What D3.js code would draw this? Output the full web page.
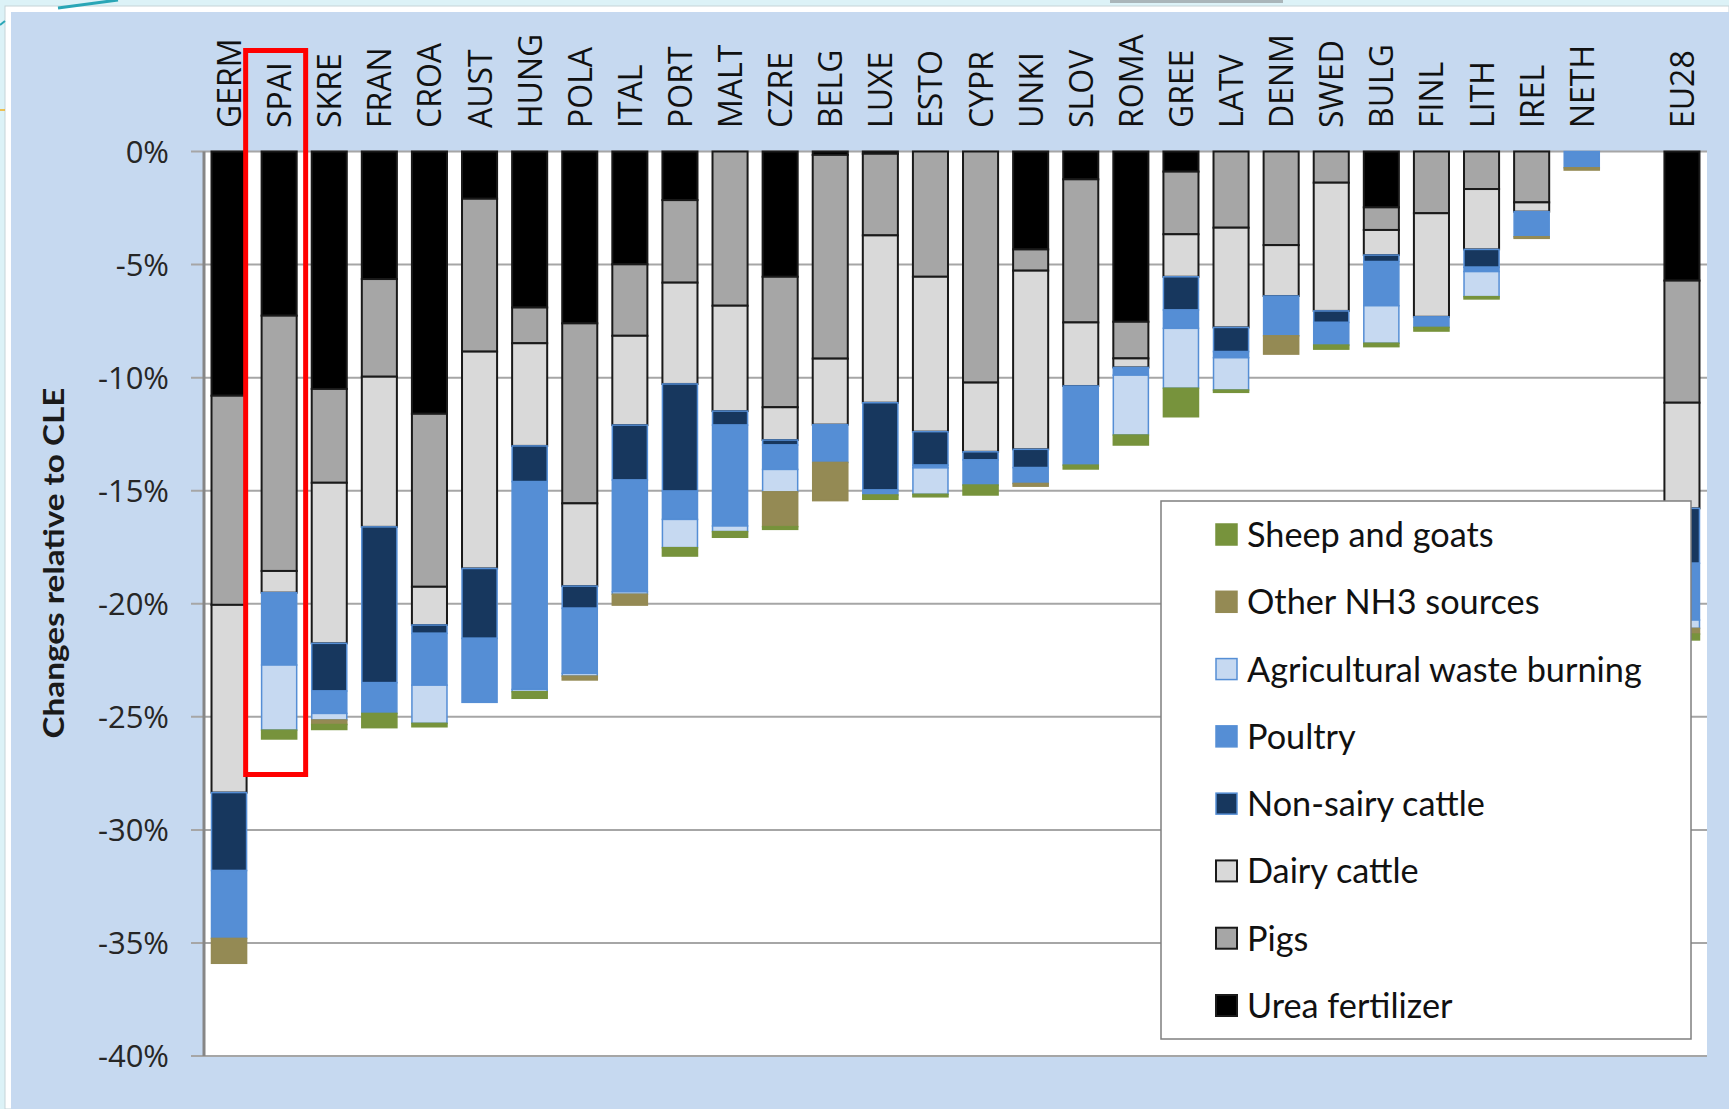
<!DOCTYPE html>
<html>
<head>
<meta charset="utf-8">
<script src="https://cdn.jsdelivr.net/npm/d3@7"></script>
<style>
  html, body { margin: 0; padding: 0; background: #dcf2f7; }
  svg { display: block; }
</style>
</head>
<body>
<svg id="chart" width="1729" height="1109"></svg>
<script>
// ---------------- DATA ----------------
const categories = ["GERM","SPAI","SKRE","FRAN","CROA","AUST","HUNG","POLA","ITAL","PORT","MALT","CZRE","BELG","LUXE","ESTO","CYPR","UNKI","SLOV","ROMA","GREE","LATV","DENM","SWED","BULG","FINL","LITH","IREL","NETH","EU28"];
const seriesNames = ["Urea fertilizer","Pigs","Dairy cattle","Non-sairy cattle","Poultry","Agricultural waste burning","Other NH3 sources","Sheep and goats"];
// reductions in % (drawn as negative changes)
const urea     = [10.8, 7.26, 10.5, 5.64, 11.6, 2.09, 6.9, 7.6, 4.99, 2.15, 0, 5.54, 0.15, 0.1, 0, 0, 4.33, 1.23, 7.53, 0.89, 0, 0, 0, 2.47, 0, 0, 0, 0, 5.71];
const pigs     = [9.25, 11.29, 4.15, 4.32, 7.65, 6.76, 1.58, 7.96, 3.16, 3.65, 6.82, 5.77, 9.01, 3.61, 5.54, 10.22, 0.94, 6.33, 1.62, 2.77, 3.37, 4.14, 1.38, 1.0, 2.73, 1.66, 2.25, 0, 5.4];
const dairy    = [8.3, 0.96, 7.1, 6.64, 1.69, 9.59, 4.54, 3.66, 3.95, 4.48, 4.66, 1.45, 2.92, 7.4, 6.85, 3.06, 7.9, 2.81, 0.4, 1.88, 4.41, 2.25, 5.67, 1.11, 4.58, 2.67, 0.41, 0, 4.67];
const nonDairy = [3.45, 0, 2.11, 6.89, 0.37, 3.09, 1.58, 0.98, 2.43, 4.74, 0.62, 0.22, 0, 3.86, 1.48, 0.36, 0.81, 0, 0, 1.47, 1.07, 0, 0.51, 0.29, 0, 0.79, 0, 0, 2.43];
const poultry  = [3.0, 3.2, 0.99, 1.36, 2.29, 2.83, 9.19, 2.88, 4.94, 1.25, 4.46, 1.08, 1.67, 0.22, 0.12, 1.11, 0.7, 3.5, 0.34, 0.81, 0.27, 1.76, 1.0, 1.95, 0.47, 0.19, 1.11, 0.72, 2.51];
const agWaste  = [0, 2.88, 0.29, 0, 1.69, 0, 0.1, 0.12, 0.11, 1.25, 0.25, 0.99, 0, 0, 1.17, 0, 0, 0, 2.65, 2.65, 1.43, 0, 0, 1.66, 0, 1.11, 0, 0, 0.37];
const otherNH3 = [1.1, 0, 0.2, 0, 0, 0, 0, 0.17, 0.48, 0, 0, 1.54, 1.69, 0, 0, 0, 0.12, 0, 0, 0, 0, 0.81, 0, 0, 0, 0, 0.07, 0.1, 0.25];
const sheep    = [0, 0.39, 0.22, 0.63, 0.15, 0, 0.29, 0, 0, 0.37, 0.25, 0.12, 0, 0.19, 0.11, 0.44, 0, 0.17, 0.44, 1.26, 0.1, 0, 0.18, 0.15, 0.16, 0.1, 0, 0, 0.26];
const yTicks = [0, -0.05, -0.10, -0.15, -0.20, -0.25, -0.30, -0.35, -0.40];
const highlighted = "SPAI";

const seriesValues = [urea, pigs, dairy, nonDairy, poultry, agWaste, otherNH3, sheep];
const fills   = ["#000000","#a6a6a6","#d9d9d9","#17375e","#558ed5","#c6d9f1","#948a54","#77933c"];
const strokes = ["#1a1a1a","#1a1a1a","#1a1a1a","#558ed5","#558ed5","#558ed5","#948a54","#77933c"];

// table for the stack
const SPACER = "__gap__";
const domain = categories.slice(0, -1).concat([SPACER, categories[categories.length - 1]]);
const rows = categories.map((c, i) => {
  const r = { cat: c };
  seriesNames.forEach((s, k) => r[s] = -seriesValues[k][i] / 100);
  return r;
});

// ---------------- LAYOUT ----------------
const svg = d3.select("#chart");
const W = 1729, H = 1109;
const plot = { left: 204, right: 1707, top: 151.5, bottom: 1056 };

// background (slide + chart area)
svg.append("rect").attr("x", 0).attr("y", 0).attr("width", W).attr("height", H).attr("fill", "#dcf2f7");
svg.append("rect").attr("x", 5).attr("y", 6).attr("width", W - 5).attr("height", H - 6)
  .attr("fill", "#ffffff").attr("stroke", "#c5d3d8").attr("stroke-width", 1);
svg.append("rect").attr("x", 11).attr("y", 12).attr("width", W - 11).attr("height", H - 12).attr("fill", "#c6d9f0");
svg.append("line").attr("x1", 58).attr("y1", 8).attr("x2", 118).attr("y2", 0).attr("stroke", "#2aa6b6").attr("stroke-width", 3);
svg.append("line").attr("x1", 0).attr("y1", 25).attr("x2", 5).attr("y2", 21).attr("stroke", "#2aa6b6").attr("stroke-width", 2);
svg.append("line").attr("x1", 0).attr("y1", 110).attr("x2", 5).attr("y2", 110).attr("stroke", "#f0b020").attr("stroke-width", 1.5);
svg.append("rect").attr("x", 1110).attr("y", 0).attr("width", 173).attr("height", 3).attr("fill", "#aab6ba");

// plot area
svg.append("rect").attr("x", plot.left).attr("y", plot.top)
  .attr("width", plot.right - plot.left).attr("height", plot.bottom - plot.top).attr("fill", "#ffffff");

const x = d3.scaleBand().domain(domain).range([plot.left, plot.right]).paddingInner(0.3).paddingOuter(0.15);
const y = d3.scaleLinear().domain([0, -0.40]).range([plot.top, plot.bottom]);

// gridlines
svg.append("g").selectAll("line").data(yTicks).join("line")
  .attr("x1", plot.left - 13).attr("x2", plot.right)
  .attr("y1", d => y(d)).attr("y2", d => y(d))
  .attr("stroke", "#a6a6a6").attr("stroke-width", 2);

// y axis
const yAxis = d3.axisLeft(y).tickValues(yTicks).tickSize(0).tickPadding(35)
  .tickFormat(d => Math.round(d * 100) + "%");
const gy = svg.append("g").attr("transform", `translate(${plot.left},0)`).call(yAxis);
gy.select(".domain").remove();
gy.selectAll("text").attr("font-family", "'Open Sans', sans-serif").attr("font-size", 31)
  .attr("fill", "#262626").attr("dy", "0.35em");
svg.append("line").attr("x1", plot.left).attr("x2", plot.left).attr("y1", plot.top).attr("y2", plot.bottom)
  .attr("stroke", "#868686").attr("stroke-width", 3);

// y title
svg.append("text")
  .attr("transform", `translate(${64},${563}) rotate(-90)`)
  .attr("text-anchor", "middle")
  .attr("font-family", "Lato, sans-serif").attr("font-weight", "bold").attr("font-size", 29)
  .attr("fill", "#1a1a1a")
  .attr("textLength", 351).attr("lengthAdjust", "spacingAndGlyphs")
  .text("Changes relative to CLE");

// stacked bars
const stack = d3.stack().keys(seriesNames).offset(d3.stackOffsetDiverging);
const layers = stack(rows);
const gBars = svg.append("g");
layers.forEach((layer, k) => {
  gBars.append("g").selectAll("rect")
    .data(layer.filter(d => Math.abs(d[1] - d[0]) > 1e-9))
    .join("rect")
    .attr("x", d => x(d.data.cat))
    .attr("width", x.bandwidth())
    .attr("y", d => y(Math.max(d[0], d[1])))
    .attr("height", d => Math.abs(y(d[0]) - y(d[1])))
    .attr("fill", fills[k])
    .attr("stroke", strokes[k])
    .attr("stroke-width", k < 3 ? 2 : 1.5);
});

// category labels (rotated)
svg.append("g").selectAll("text").data(categories).join("text")
  .attr("transform", d => `translate(${x(d) + x.bandwidth() / 2 + 12},${128}) rotate(-90)`)
  .attr("text-anchor", "start")
  .attr("font-family", "'Open Sans', sans-serif").attr("font-size", 32)
  .attr("fill", "#111111")
  .text(d => d);

// highlight box around SPAI
const hx = x(highlighted) + x.bandwidth() / 2;
svg.append("rect")
  .attr("x", hx - 33.5).attr("y", 50.5)
  .attr("width", 60).attr("height", 724)
  .attr("fill", "none").attr("stroke", "#ff0000").attr("stroke-width", 5);

// legend
const lg = svg.append("g");
lg.append("rect").attr("x", 1161).attr("y", 501).attr("width", 530).attr("height", 538)
  .attr("fill", "#ffffff").attr("stroke", "#7f7f7f").attr("stroke-width", 1.5);
const legendOrder = d3.range(seriesNames.length).reverse();
const ly = d3.scalePoint().domain(legendOrder).range([535, 1006]);
const items = lg.selectAll("g.item").data(legendOrder).join("g").attr("class", "item");
items.append("rect")
  .attr("x", 1216).attr("y", d => ly(d) - 11).attr("width", 21).attr("height", 21)
  .attr("fill", d => fills[d]).attr("stroke", d => strokes[d]).attr("stroke-width", d => d < 3 ? 2 : 1.5);
const ltexts = items.append("text")
  .attr("x", 1247).attr("y", d => ly(d)).attr("dy", "0.35em")
  .attr("font-family", "Lato, sans-serif").attr("font-size", 30).attr("fill", "#111111")
  .text(d => seriesNames[d]);
// fit legend font so the longest label matches the reference width
const longest = ltexts.filter(d => d === 5).node();
if (longest && longest.getComputedTextLength) {
  const len = longest.getComputedTextLength();
  if (len > 0) ltexts.attr("font-size", 30 * 395 / len);
}
</script>
</body>
</html>
